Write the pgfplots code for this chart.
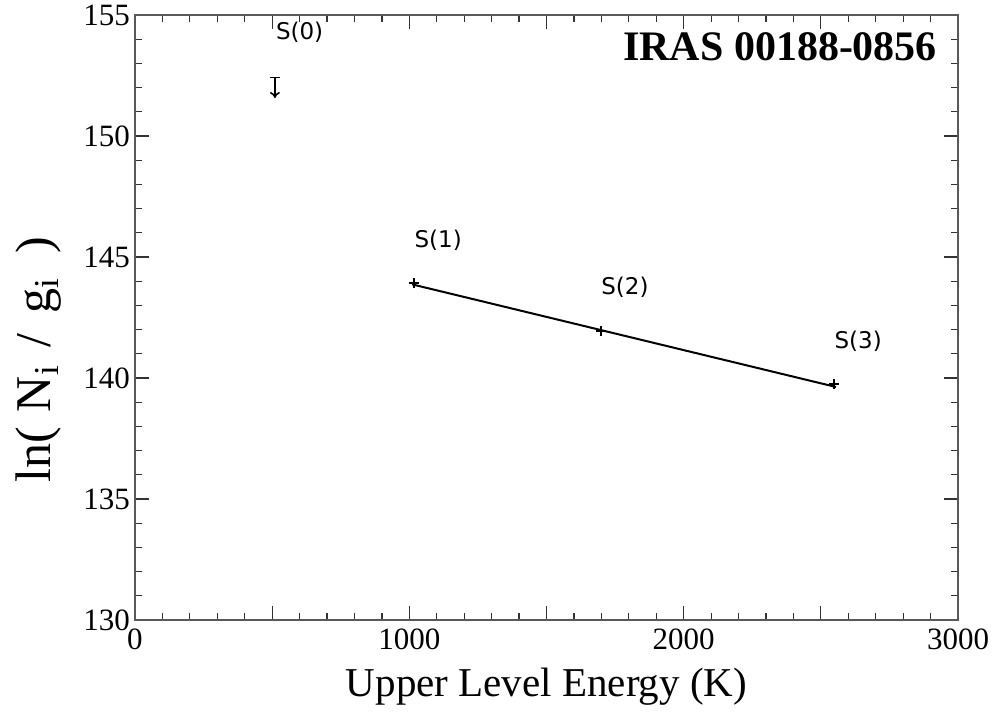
\documentclass[border=0pt]{standalone}
\usepackage{fontspec}
\setmainfont{Liberation Serif}
\newfontfamily\labfont{DejaVu Sans}
\usepackage{pgfplots}
\pgfplotsset{compat=1.18}
\usetikzlibrary{arrows.meta}
\begin{document}
\begin{tikzpicture}
\useasboundingbox (-67.5pt,-49.5pt) rectangle (430pt,310pt);
\begin{axis}[
  at={(0,0)}, anchor=south west,
  scale only axis, width=411.5pt, height=302.5pt,
  xmin=0, xmax=3000, ymin=130, ymax=155,
  xtick={0,500,...,3000}, xticklabels={0,,1000,,2000,,3000},
  ytick={130,135,...,155},
  minor x tick num=4, minor y tick num=4,
  tick align=inside, ticks=both,
  major tick length=7pt, minor tick length=3.5pt,
  axis line style={black!65, line width=0.8pt},
  tick style={black!80, line width=0.6pt},
  tick label style={font=\fontsize{15.5}{15.5}\selectfont},
  /pgf/number format/assume math mode=true,
  /pgf/number format/1000 sep={},
  xticklabel style={yshift=-1pt},
  yticklabel style={xshift=1pt},
  xlabel={Upper Level Energy (K)},
  xlabel style={font=\fontsize{20.5}{20.5}\selectfont, yshift=-2pt},
  ylabel={ln(\hspace{0.3em}N\textsubscript{i}\hspace{0.35em}/\hspace{0.4em}g\textsubscript{i}\hspace{0.5em})},
  ylabel style={font=\fontsize{25}{25}\selectfont, yshift=4pt, xshift=-21pt},
  clip=false,
]
% fit line
\addplot[black, line width=1pt] coordinates {(1010,143.87) (2555,139.63)};
% detections
\addplot[black, only marks, mark=+, mark size=2.5pt, line width=1.1pt,
  error bars/.cd, y dir=both, y explicit, error mark=none,
  error bar style={line width=1.1pt}]
  coordinates {
  (1017,143.93) +- (0,0.12)
  (1699,141.95) +- (0,0.08)
  (2548,139.75) +- (0,0.18)
  };
% upper limit S(0)
\addplot[black, only marks, mark=-, mark size=2.5pt, line width=0.8pt,
  error bars/.cd, y dir=minus, y explicit, error mark=none,
  error bar style={line width=0.8pt, -{To[length=3pt,width=5pt]}}]
  coordinates {(510,152.42) -= (0,0.85)};
\node[font=\labfont\fontsize{11.5}{11.5}\selectfont] at (axis cs:600,154.3) {S(0)};
\node[font=\labfont\fontsize{11.5}{11.5}\selectfont] at (axis cs:1105,145.7) {S(1)};
\node[font=\labfont\fontsize{11.5}{11.5}\selectfont] at (axis cs:1786,143.76) {S(2)};
\node[font=\labfont\fontsize{11.5}{11.5}\selectfont] at (axis cs:2636,141.53) {S(3)};
\node[anchor=east, font=\bfseries\fontsize{21}{21}\selectfont, inner sep=0pt] at (axis cs:2925,153.68) {IRAS 00188-0856};
\end{axis}
\end{tikzpicture}
\end{document}
